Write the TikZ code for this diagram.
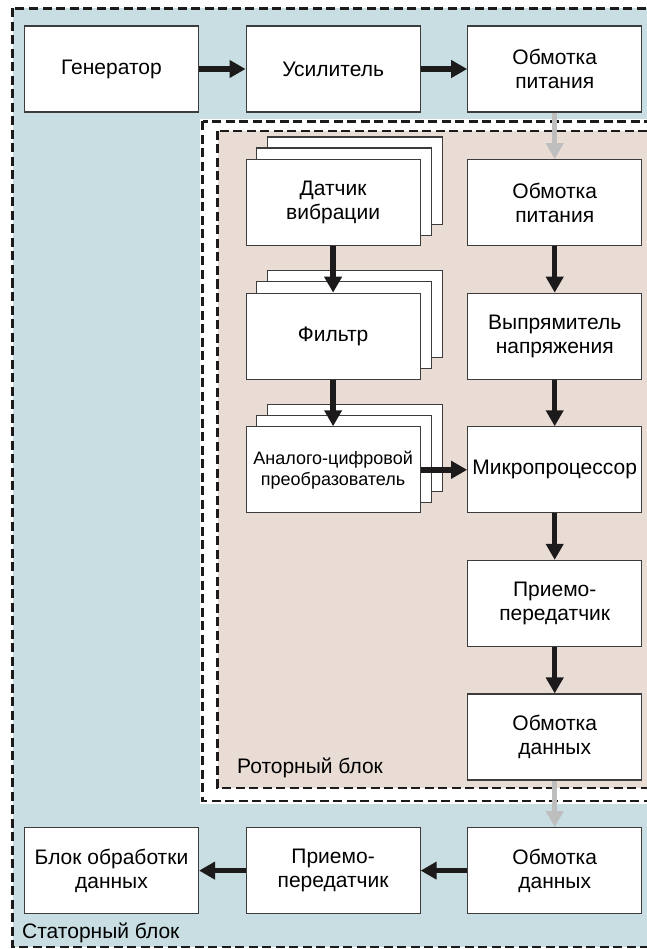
\documentclass[tikz,border=0pt]{standalone}
\usepackage{fontspec}
\setmainfont{Liberation Sans}
\usepackage{tikz}
\usetikzlibrary{arrows.meta, positioning}
\usepackage{xcolor}
\definecolor{statorblue}{RGB}{200,222,226}
\definecolor{rotorpink}{RGB}{233,220,213}
\definecolor{inkdark}{RGB}{28,26,26}
\definecolor{boxline}{RGB}{60,60,60}
\definecolor{linkgray}{RGB}{190,190,190}
\pgfdeclarelayer{frames}
\pgfdeclarelayer{sheets}
\pgfsetlayers{frames,sheets,main}

\begin{document}
\begin{tikzpicture}[
  x=1pt, y=-1pt,
  blk/.style={draw=boxline, fill=white, line width=1.1pt,
              minimum width=174pt, minimum height=86pt, inner sep=2pt,
              align=center, font=\fontsize{21}{24}\selectfont},
  sheet/.style={draw=boxline, fill=white, line width=1.1pt},
  arr/.style={-{Triangle[length=16pt, width=17pt]}, inkdark, line width=5.5pt},
  warr/.style={arr, linkgray},
  frame/.style={draw=inkdark, line width=2.4pt, dash pattern=on 9pt off 4.5pt},
  lbl/.style={anchor=base west, inner sep=0pt, font=\fontsize{21}{24}\selectfont},
  node distance=46.5pt,
]
  \useasboundingbox (0,0) rectangle (646,949);
  \clip (0,0) rectangle (646,949);

  % Stator chain, top row
  \node[blk] (gen) at (111.5,69) {Генератор};
  \node[blk, right=of gen] (amp) {Усилитель};
  \node[blk, right=of amp] (pwr) {Обмотка\\питания};

  % Rotor, right column
  \node[blk, below=of pwr] (rpwr) {Обмотка\\питания};
  \node[blk, below=of rpwr] (rect) {Выпрямитель\\напряжения};
  \node[blk, below=of rect] (mcu) {Микропроцессор};
  \node[blk, below=of mcu] (rtx) {Приемо-\\передатчик};
  \node[blk, below=of rtx] (rdat) {Обмотка\\данных};

  % Rotor, sensor channels
  \node[blk, below=of amp] (sens) {Датчик\\вибрации};
  \node[blk, below=of sens] (filt) {Фильтр};
  \node[blk, below=of filt, font=\fontsize{18}{21}\selectfont] (adc)
    {Аналого-цифровой\\преобразователь};

  % Stator chain, bottom row
  \node[blk, below=of rdat] (sdat) {Обмотка\\данных};
  \node[blk, left=of sdat] (stx) {Приемо-\\передатчик};
  \node[blk, left=of stx] (proc) {Блок обработки\\данных};

  % stacked copies behind the channels
  \begin{pgfonlayer}{sheets}
    \foreach \n in {sens, filt, adc} {
      \foreach \s in {22, 11} {
        \draw[sheet] ([shift={(\s,-\s)}]\n.south west)
          rectangle ([shift={(\s,-\s)}]\n.north east);
      }
    }
  \end{pgfonlayer}

  % Blocks
  \begin{pgfonlayer}{frames}
    \fill[statorblue] (12.5,8.5) rectangle (700,947);
    \draw[frame] (12.5,8.5) rectangle (700,947);
    \fill[white] (200,119) rectangle (700,804);
    \draw[frame] (202.5,121.5) rectangle (700,801);
    \fill[rotorpink] (217.5,131) rectangle (700,788);
    \draw[frame] (217.5,131) rectangle (700,788);
  \end{pgfonlayer}
  \node[lbl] (rotor) at (237,773) {Роторный блок};
  \node[lbl] (stator) at (22,938) {Статорный блок};

  \foreach \a/\b in {gen/amp, amp/pwr, rpwr/rect, rect/mcu, mcu/rtx, rtx/rdat,
                     sens/filt, filt/adc, adc/mcu, sdat/stx, stx/proc} {
    \draw[arr] (\a) -- (\b);
  }
  \draw[warr] (pwr) -- (rpwr);
  \draw[warr] (rdat) -- (sdat);
\end{tikzpicture}
\end{document}
